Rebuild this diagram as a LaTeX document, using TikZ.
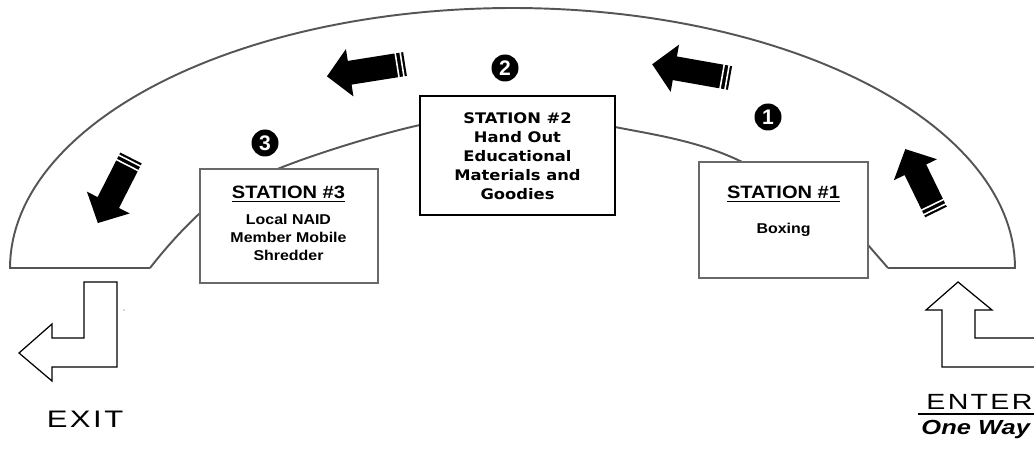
\documentclass[tikz,border=0pt]{standalone}
\usepackage{fontspec}
\setmainfont{Liberation Sans}
\newfontfamily\dvsans{DejaVu Sans}
\newfontfamily\wideletters{Liberation Sans}[LetterSpace=8]
\definecolor{arcgray}{RGB}{85,85,85}
\definecolor{boxgray}{RGB}{105,105,105}
\newcommand\blockarrow[4]{%
  \begin{scope}[shift={(#1,#2)},rotate=#3]
    \fill[black] (0,-12) -- ({#4-23},-12) -- ({#4-23},-24) -- (#4,0) -- ({#4-23},24) -- ({#4-23},12) -- (0,12) -- cycle;
    \draw[white,line width=0.9pt] (3,-13) -- (3,13) (8,-13) -- (8,13);
  \end{scope}}
\tikzset{
  arcline/.style={draw=arcgray, line width=1.1pt},
  stbox/.style={draw, fill=white, inner sep=0pt},
  sttitle/.style={inner sep=0pt, xscale=1.12, font=\fontsize{10.2}{12}\selectfont\bfseries},
  stbody/.style={inner sep=0pt, xscale=1.12, align=center, font=\fontsize{8.1}{10.2}\selectfont\bfseries},
  sttwo/.style={inner sep=0pt, xscale=1.12, align=center, font=\dvsans\fontsize{8.3}{10.8}\selectfont\bfseries},
  numdot/.style={circle, fill=black, text=white, inner sep=0pt, minimum size=0.54cm, font=\fontsize{12}{12}\selectfont\bfseries},
  outlinearrow/.style={draw=black, line width=0.7pt, line join=miter},
  bigword/.style={inner sep=0pt, xscale=1.3, font=\wideletters\fontsize{13}{14}\selectfont}
}
\begin{document}
\begin{tikzpicture}[x=0.02cm, y=-0.02cm]
\useasboundingbox (0,0) rectangle (1034,452);
% walkway
\draw[arcline] (150,268) -- (10,268)
  -- plot[domain=180:360, samples=120, variable=\t] ({512.5+502.5*cos(\t)}, {268+260*sin(\t)})
  -- (888,268);
\draw[arcline] (150,268) .. controls (168,245) and (184,228) .. (200,213)
  -- plot[smooth, tension=0.6] coordinates {(200,213) (280,168) (420,125) (517,116) (615,127) (738,160) (868,245)}
  -- (888,268);
% stations
\node[stbox, draw=boxgray, line width=1.4pt, minimum width=3.56cm, minimum height=2.28cm] (st3) at (289,226) {};
\node[stbox, draw=black, line width=1.2pt, minimum width=3.9cm, minimum height=2.38cm] (st2) at (517.5,155.5) {};
\node[stbox, draw=boxgray, line width=1.1pt, minimum width=3.38cm, minimum height=2.32cm] (st1) at (783.5,220) {};
\node[sttitle, anchor=north] (t3) at (288.5,185.5) {\underline{STATION \#3}};
\node[stbody, anchor=north] (b3) at (288.5,214) {Local NAID\\Member Mobile\\Shredder};
\node[sttwo, anchor=north] (b2) at (517.5,112.5) {STATION \#2\\Hand Out\\Educational\\Materials and\\Goodies};
\node[sttitle, anchor=north] (t1) at (783.5,185.5) {\underline{STATION \#1}};
\node[stbody, anchor=north] (b1) at (783.5,223) {Boxing};
% numbers
\node[numdot] (n1) at (768,117) {1};
\node[numdot] (n2) at (505,68) {2};
\node[numdot] (n3) at (265,143) {3};
% flow arrows
\blockarrow{936}{212}{116}{70}
\blockarrow{730}{78}{170}{79}
\blockarrow{405}{64}{189}{79}
\blockarrow{131}{158}{243}{73}
% exit arrow
\draw[outlinearrow] (84,282) -- (117,282) -- (117,367) -- (52,367) -- (52,381) -- (19,353) -- (52,324) -- (52,338) -- (84,338) -- cycle;
\fill[gray!60] (124,310) circle[radius=0.8];
% enter arrow
\draw[outlinearrow] (1040,338) -- (975,338) -- (975,310) -- (992,310) -- (958,282) -- (926,310) -- (942,310) -- (942,367) -- (1040,367);
% labels
\node[bigword, font=\wideletters\fontsize{13.6}{14}\selectfont, anchor=base] (exit) at (85,427) {EXIT};
\node[bigword, font=\wideletters\fontsize{12.5}{14}\selectfont, anchor=base west] (enter) at (926,409) {ENTER};
\draw[line width=0.9pt] (918,414) -- (1040,414);
\node[inner sep=0pt, xscale=1.25, anchor=base west, font=\fontsize{11.6}{12}\selectfont\bfseries\itshape] (oneway) at (921,434) {One Way};
\end{tikzpicture}
\end{document}
